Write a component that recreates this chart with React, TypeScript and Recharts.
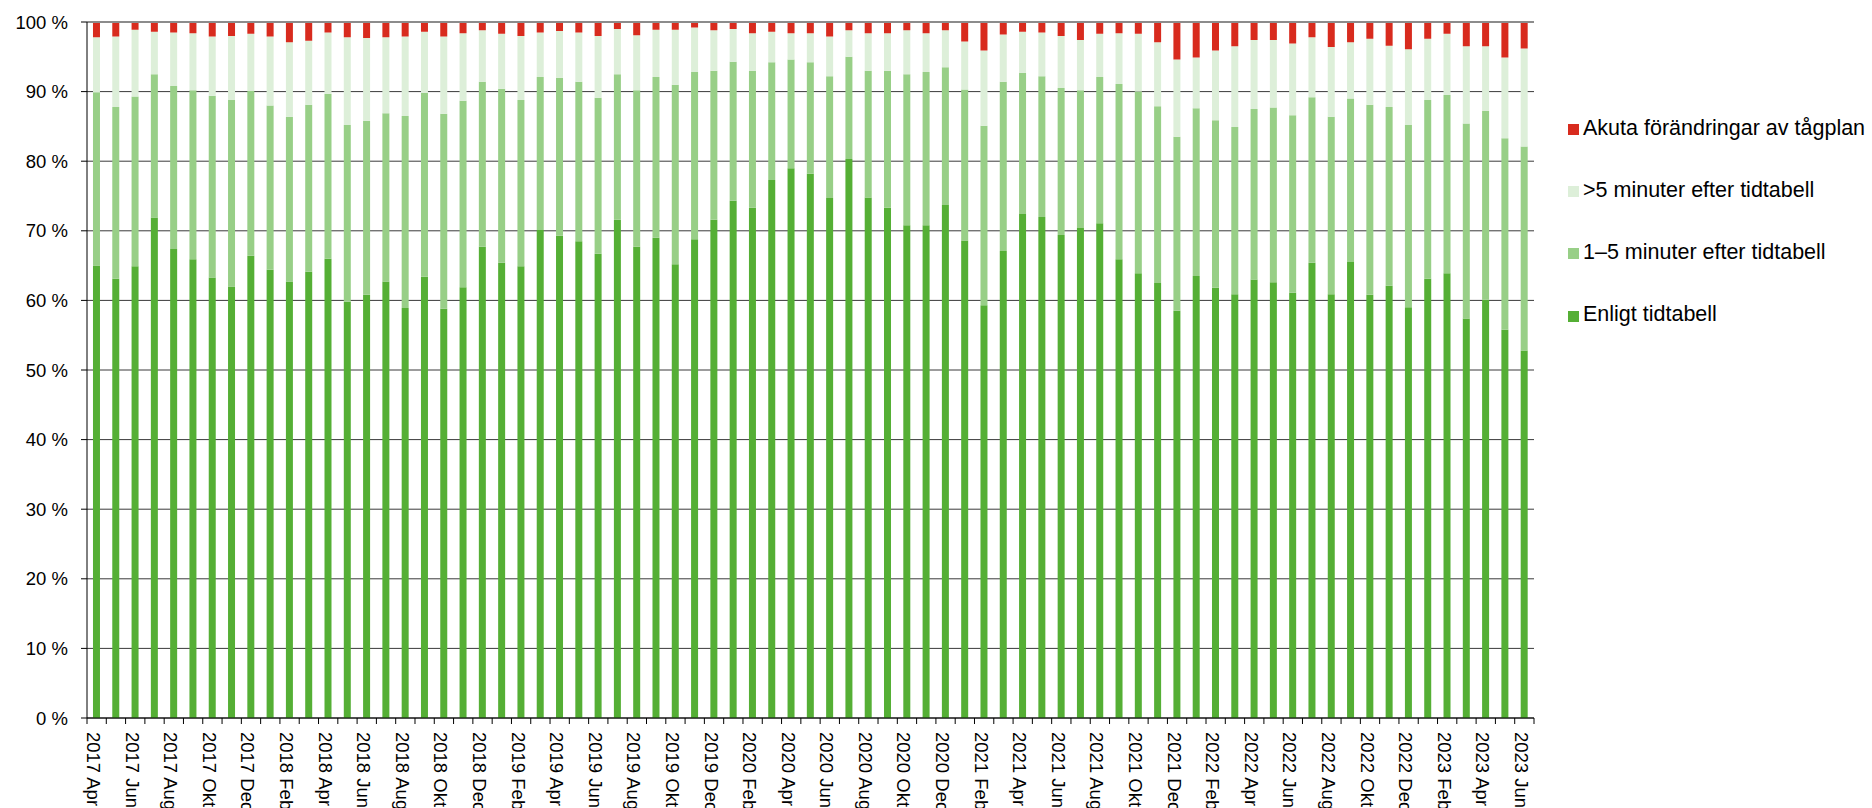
import React from 'react';
import { BarChart, Bar, XAxis, YAxis, CartesianGrid, ReferenceLine } from 'recharts';

const months = [
  '2017 Apr', '2017 Maj', '2017 Jun', '2017 Jul', '2017 Aug', '2017 Sep', '2017 Okt', '2017 Nov', '2017 Dec',
  '2018 Jan', '2018 Feb', '2018 Mar', '2018 Apr', '2018 Maj', '2018 Jun', '2018 Jul', '2018 Aug', '2018 Sep', '2018 Okt', '2018 Nov', '2018 Dec',
  '2019 Jan', '2019 Feb', '2019 Mar', '2019 Apr', '2019 Maj', '2019 Jun', '2019 Jul', '2019 Aug', '2019 Sep', '2019 Okt', '2019 Nov', '2019 Dec',
  '2020 Jan', '2020 Feb', '2020 Mar', '2020 Apr', '2020 Maj', '2020 Jun', '2020 Jul', '2020 Aug', '2020 Sep', '2020 Okt', '2020 Nov', '2020 Dec',
  '2021 Jan', '2021 Feb', '2021 Mar', '2021 Apr', '2021 Maj', '2021 Jun', '2021 Jul', '2021 Aug', '2021 Sep', '2021 Okt', '2021 Nov', '2021 Dec',
  '2022 Jan', '2022 Feb', '2022 Mar', '2022 Apr', '2022 Maj', '2022 Jun', '2022 Jul', '2022 Aug', '2022 Sep', '2022 Okt', '2022 Nov', '2022 Dec',
  '2023 Jan', '2023 Feb', '2023 Mar', '2023 Apr', '2023 Maj', '2023 Jun',
];

// Enligt tidtabell
const enligt = [
  65.0, 63.1, 64.9, 71.9, 67.4, 65.9, 63.3, 62.0, 66.4,
  64.4, 62.7, 64.1, 66.0, 59.8, 60.8, 62.7, 58.9, 63.4, 58.8, 61.9, 67.7,
  65.4, 64.9, 70.1, 69.3, 68.5, 66.7, 71.6, 67.7, 69.0, 65.2, 68.8, 71.6,
  74.3, 73.3, 77.3, 79.0, 78.2, 74.7, 80.3, 74.8, 73.3, 70.8, 70.8, 73.7,
  68.6, 59.3, 67.1, 72.4, 72.0, 69.4, 70.4, 71.1, 65.9, 63.9, 62.5, 58.5,
  63.5, 61.8, 60.9, 63.0, 62.6, 61.1, 65.4, 60.9, 65.5, 60.8, 62.1, 59.0,
  63.1, 63.9, 57.4, 60.1, 55.8, 52.8,
];

// 1–5 minuter efter tidtabell
const min1to5 = [
  24.9, 24.7, 24.4, 20.6, 23.4, 24.3, 26.1, 26.8, 23.7,
  23.6, 23.7, 24.0, 23.7, 25.4, 25.0, 24.2, 27.6, 26.4, 28.0, 26.8, 23.7,
  25.0, 23.9, 22.0, 22.7, 22.9, 22.4, 20.9, 22.5, 23.1, 25.8, 24.0, 21.4,
  20.0, 19.7, 16.9, 15.6, 16.0, 17.5, 14.7, 18.2, 19.7, 21.7, 22.0, 19.8,
  21.7, 25.8, 24.3, 20.3, 20.2, 21.1, 19.8, 21.0, 25.2, 26.1, 25.4, 25.0,
  24.1, 24.1, 24.0, 24.5, 25.1, 25.5, 23.8, 25.5, 23.5, 27.3, 25.7, 26.2,
  25.7, 25.6, 28.0, 27.1, 27.5, 29.3,
];

// >5 minuter efter tidtabell
const over5 = [
  7.9, 10.1, 9.6, 6.1, 7.7, 8.2, 8.5, 9.2, 8.2,
  9.9, 10.7, 9.2, 8.8, 12.6, 11.9, 10.9, 11.4, 8.8, 11.1, 9.7, 7.4,
  7.9, 9.2, 6.4, 6.7, 7.1, 8.9, 6.5, 7.9, 6.8, 7.9, 6.4, 5.8,
  4.7, 5.4, 4.4, 3.8, 4.2, 5.7, 3.8, 5.4, 5.4, 6.3, 5.6, 5.3,
  6.9, 10.8, 6.8, 5.9, 6.3, 7.5, 7.2, 6.2, 7.3, 8.3, 9.2, 11.1,
  7.3, 10.0, 11.6, 9.9, 9.7, 10.3, 8.6, 10.0, 8.1, 9.5, 8.8, 10.9,
  8.8, 8.8, 11.1, 9.3, 11.6, 14.1,
];

// Akuta förändringar av tågplan
const akuta = [
  2.2, 2.1, 1.1, 1.4, 1.5, 1.6, 2.1, 2.0, 1.7,
  2.1, 2.9, 2.7, 1.5, 2.2, 2.3, 2.2, 2.1, 1.4, 2.1, 1.6, 1.2,
  1.7, 2.0, 1.5, 1.3, 1.5, 2.0, 1.0, 1.9, 1.1, 1.1, 0.8, 1.2,
  1.0, 1.6, 1.4, 1.6, 1.6, 2.1, 1.2, 1.6, 1.6, 1.2, 1.6, 1.2,
  2.8, 4.1, 1.8, 1.4, 1.5, 2.0, 2.6, 1.7, 1.6, 1.7, 2.9, 5.4,
  5.1, 4.1, 3.5, 2.6, 2.6, 3.1, 2.2, 3.6, 2.9, 2.4, 3.4, 3.9,
  2.4, 1.7, 3.5, 3.5, 5.1, 3.8,
];

const yTicks = [0, 10, 20, 30, 40, 50, 60, 70, 80, 90, 100];

const RED = '#d82b1e';
const LIGHT = '#ddefd9';
const MID = '#98cf87';
const DARK = '#55af35';
const FONT = '"Liberation Sans", Arial, sans-serif';

const PLOT_WIDTH = 1447;
const BAND = PLOT_WIDTH / months.length;

const data = months.map((month, i) => ({
  month,
  enligt: enligt[i],
  min1to5: min1to5[i],
  over5: over5[i],
  akuta: akuta[i],
}));

const legendItems = [
  { label: 'Akuta förändringar av tågplan', color: RED },
  { label: '>5 minuter efter tidtabell', color: LIGHT },
  { label: '1–5 minuter efter tidtabell', color: MID },
  { label: 'Enligt tidtabell', color: DARK },
];

function MonthTick(props: any) {
  const { x, y, payload } = props;
  const i = props.index ?? payload?.index ?? 0;
  const left = x - BAND / 2;
  return (
    <g>
      <line x1={left} x2={left} y1={y} y2={y + 6} stroke="#000" />
      {i === months.length - 1 && (
        <line x1={x + BAND / 2} x2={x + BAND / 2} y1={y} y2={y + 6} stroke="#000" />
      )}
      {i % 2 === 0 && (
        <text
          transform={`translate(${x - 3},${y + 14}) rotate(90)`}
          textAnchor="start"
          dominantBaseline="central"
          fontSize={18.5}
          fontFamily={FONT}
          fill="#000"
        >
          {payload.value}
        </text>
      )}
    </g>
  );
}

export default function App() {
  return (
    <div style={{ position: 'absolute', left: 0, top: 0, width: 1872, height: 808, background: '#fff', fontFamily: FONT }}>
      <BarChart
        width={1872}
        height={808}
        data={data}
        margin={{ top: 22, right: 338, bottom: 0, left: 7 }}
        barCategoryGap="31%"
      >
        <CartesianGrid vertical={false} stroke="#3a3a3a" />
        <XAxis
          dataKey="month"
          interval={0}
          height={90}
          tickLine={false}
          tickSize={0}
          tickMargin={0}
          axisLine={{ stroke: '#000' }}
          tick={<MonthTick />}
        />
        <YAxis
          domain={[0, 100]}
          ticks={yTicks}
          interval={0}
          allowDataOverflow
          width={80}
          tickMargin={13}
          tickFormatter={(v) => `${v} %`}
          tick={{ fill: '#000', fontSize: 18.5, fontFamily: FONT }}
          axisLine={{ stroke: '#000' }}
          tickLine={{ stroke: '#000' }}
        />
        <YAxis
          yAxisId="right"
          orientation="right"
          width={0}
          domain={[0, 100]}
          tick={false}
          tickLine={false}
          axisLine={{ stroke: '#8c8c8c', strokeWidth: 2 }}
        />
        <Bar dataKey="enligt" stackId="a" fill={DARK} isAnimationActive={false} />
        <Bar dataKey="min1to5" stackId="a" fill={MID} isAnimationActive={false} />
        <Bar dataKey="over5" stackId="a" fill={LIGHT} isAnimationActive={false} />
        <Bar dataKey="akuta" stackId="a" fill={RED} isAnimationActive={false} />
        <ReferenceLine y={100} stroke="#8c8c8c" strokeWidth={2} />
      </BarChart>
      {legendItems.map((item, i) => {
        const top = 124 + i * 62.2;
        return (
          <React.Fragment key={item.label}>
            <div style={{ position: 'absolute', left: 1568, top, width: 11, height: 11, background: item.color }} />
            <div
              style={{
                position: 'absolute',
                left: 1583,
                top: top - 6.5,
                fontSize: 21.5,
                lineHeight: '21.5px',
                whiteSpace: 'nowrap',
                color: '#000',
              }}
            >
              {item.label}
            </div>
          </React.Fragment>
        );
      })}
    </div>
  );
}
